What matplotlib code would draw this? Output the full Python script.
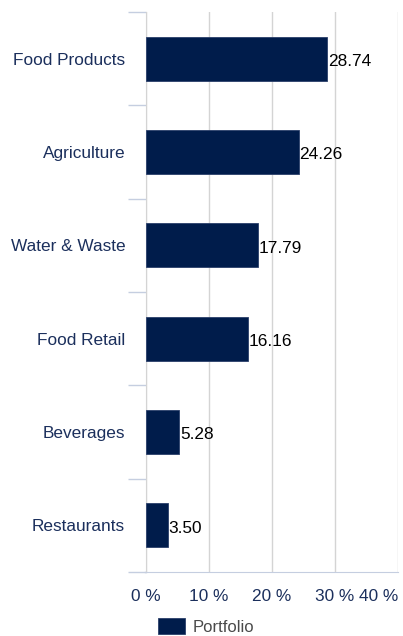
import matplotlib
matplotlib.use("Agg")
import matplotlib.pyplot as plt
from matplotlib.ticker import FixedLocator, NullFormatter

plt.rcParams["font.family"] = ["Liberation Sans", "DejaVu Sans"]

categories = ["Food Products", "Agriculture", "Water & Waste", "Food Retail", "Beverages", "Restaurants"]
portfolio = [28.74, 24.26, 17.79, 16.16, 5.28, 3.50]
x_ticks = [0, 10, 20, 30, 40]
x_tick_labels = ["0 %", "10 %", "20 %", "30 %", "40 %"]

NAVY = "#001c4b"
LABEL_COLOR = "#1b2f5c"
GRID = "#d4d4d4"
AXIS = "#c5cee0"

fig = plt.figure(figsize=(4.03, 6.36), dpi=100)
ax = fig.add_axes([0.3623, 0.1006, 0.6253, 0.8805])

y = list(range(len(categories)))
bars = ax.barh(y, portfolio, height=0.47, color=NAVY, edgecolor="#2a3f6a", linewidth=0.6,
               label="Portfolio", zorder=3)
for yi, v in zip(y, portfolio):
    ax.text(v + 0.1, yi + 0.03, f"{v:.2f}", va="center", ha="left", fontsize=12.4,
            color="black", zorder=4)

ax.set_xlim(0, 40)
ax.set_ylim(len(categories) - 0.5, -0.5)

# category names sit between boundary ticks
ax.yaxis.set_major_locator(FixedLocator([i - 0.5 for i in range(len(categories) + 1)]))
ax.yaxis.set_major_formatter(NullFormatter())
ax.yaxis.set_minor_locator(FixedLocator(y))
ax.set_yticklabels(categories, minor=True)
ax.tick_params(axis="y", which="minor", length=0, pad=15, labelsize=12.4, labelcolor=LABEL_COLOR)
ax.tick_params(axis="y", which="major", length=13, width=1, color=AXIS)

ax.set_xticks(x_ticks)
ax.set_xticklabels(x_tick_labels)
ax.tick_params(axis="x", length=0, pad=12, labelsize=12.4, labelcolor=LABEL_COLOR)
ax.get_xticklabels()[-1].set_horizontalalignment("right")

ax.grid(axis="x", color=GRID, linewidth=1, zorder=0)
for side in ("top", "right"):
    ax.spines[side].set_visible(False)
ax.spines["left"].set_color(GRID)
ax.spines["bottom"].set_color(AXIS)
ax.spines["bottom"].set_bounds(0, 40)
ax.plot([-0.2, 0], [len(categories) - 0.5] * 2, color=AXIS, lw=1, clip_on=False)

leg = fig.legend(handles=[bars], labels=["Portfolio"], loc="lower left",
                 bbox_to_anchor=(0.355, -0.022), frameon=False, fontsize=12,
                 handlelength=1.6, handleheight=1.1, handletextpad=0.5)
for t in leg.get_texts():
    t.set_color("#4a4a4a")

fig.savefig("out.png", dpi=100)
